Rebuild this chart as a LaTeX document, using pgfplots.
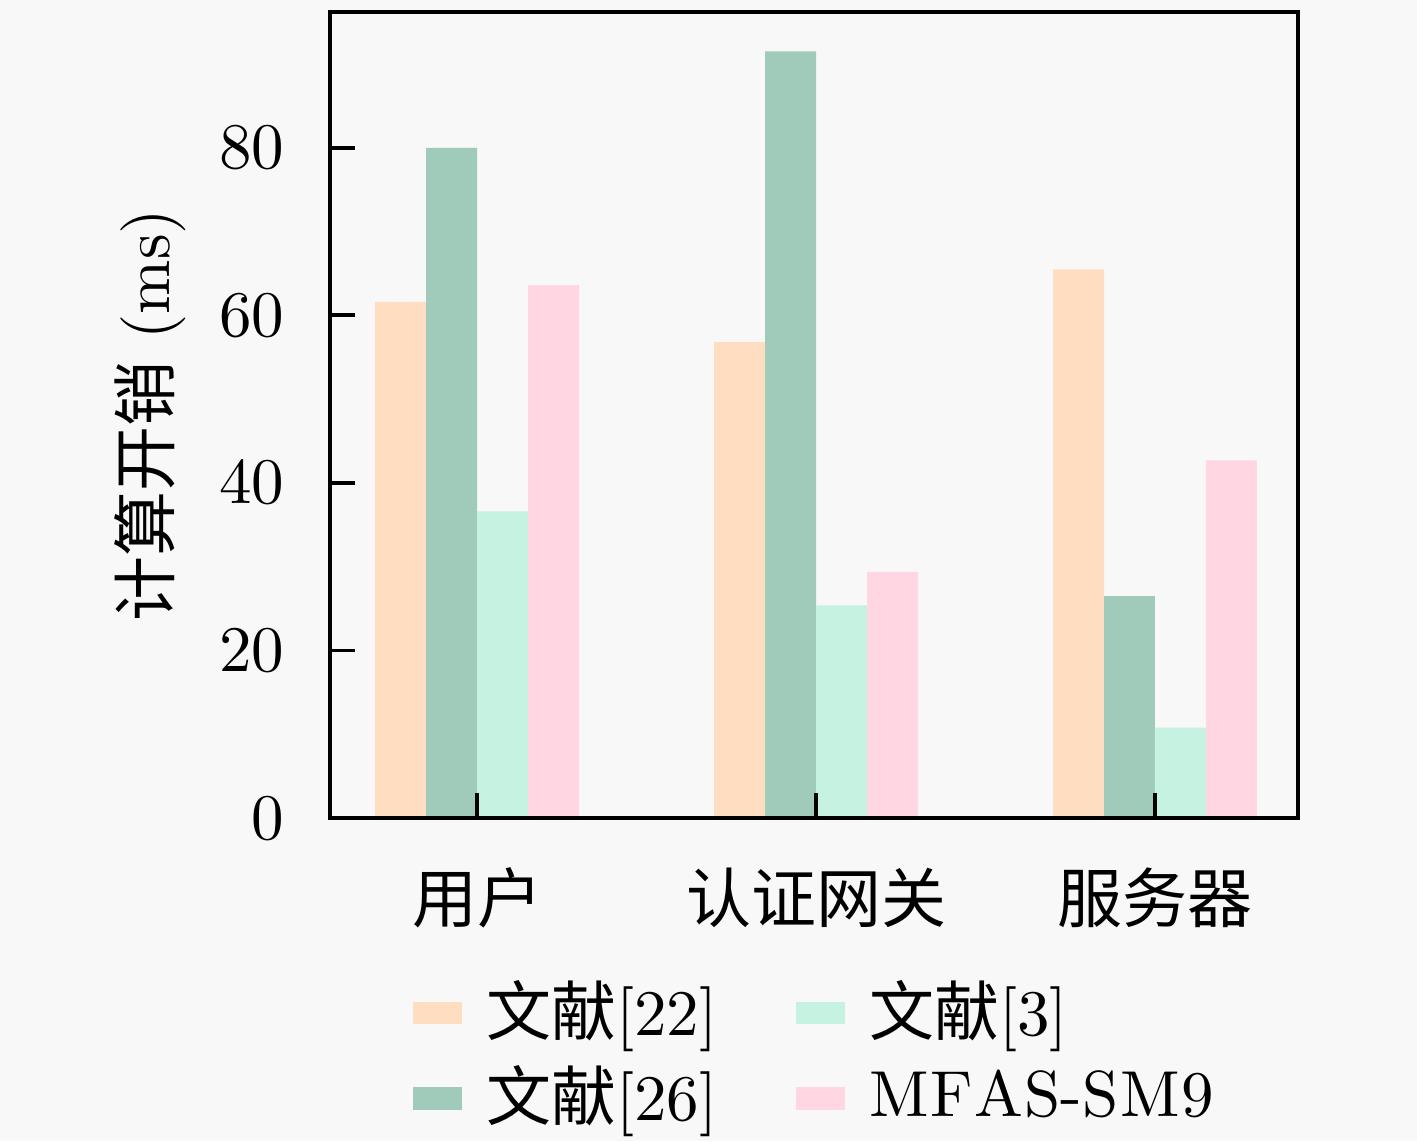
\documentclass[border=0pt]{standalone}
\usepackage{pgfplots}
\pgfplotsset{compat=1.18}
\usepackage{fontspec}
\newfontfamily\cjk{Noto Sans CJK SC}
\usetikzlibrary{backgrounds}
\definecolor{cA}{HTML}{FFDDC1}
\definecolor{cB}{HTML}{A0CBBB}
\definecolor{cC}{HTML}{C6F2E1}
\definecolor{cD}{HTML}{FFD6E2}
\definecolor{bgc}{HTML}{F8F8F8}
\pgfplotstableread{
x A B C D
0 61.6 80.0 36.6 63.6
1 56.8 91.5 25.4 29.4
2 65.5 26.5 10.8 42.7
}\datatab
\begin{document}
\begin{tikzpicture}
\begin{axis}[
  name=ax,
  scale only axis,
  axis on top,
  width=148.9pt, height=124pt,
  ybar=0pt, bar width=0.1504,
  xmin=-0.434, xmax=2.422,
  ymin=0, ymax=96.2,
  xtick={0,1,2},
  xticklabels={{\cjk 用户},{\cjk 认证网关},{\cjk 服务器}},
  ytick={0,20,40,60,80},
  tick align=inside,
  xtick pos=bottom, ytick pos=left,
  major tick length=3.8pt,
  every tick/.style={black, line width=0.6pt},
  axis line style={line width=0.6pt},
  axis background/.style={fill=bgc},
  xticklabel style={anchor=center, yshift=-12.2pt},
  yticklabel style={xshift=-3.5pt},
  ylabel={{\cjk 计算开销} (ms)},
  ylabel style={at={(axis description cs:-0.186,0.5)}, anchor=center},
  legend columns=2,
  transpose legend,
  legend cell align=left,
  legend style={at={(axis description cs:0,0)}, anchor=north west, xshift=12.8pt, yshift=-24.35pt,
    draw=none, fill=none, inner sep=0pt, outer sep=0pt,
    nodes={inner sep=0.65pt}, row sep=1.85pt,
    /tikz/every odd column/.style={column sep=3.05pt},
    /tikz/every even column/.style={column sep=11.5pt}},
]
\addplot[fill=cA, draw=none, legend image code/.code={\fill[cA] (0pt,-1.75pt) rectangle (7.5pt,1.75pt);}] table[x=x,y=A] {\datatab};
\addplot[fill=cB, draw=none, legend image code/.code={\fill[cB] (0pt,-1.75pt) rectangle (7.5pt,1.75pt);}] table[x=x,y=B] {\datatab};
\addplot[fill=cC, draw=none, legend image code/.code={\fill[cC] (0pt,-1.75pt) rectangle (7.5pt,1.75pt);}] table[x=x,y=C] {\datatab};
\addplot[fill=cD, draw=none, legend image code/.code={\fill[cD] (0pt,-1.75pt) rectangle (7.5pt,1.75pt);}] table[x=x,y=D] {\datatab};
\legend{{\cjk 文献}[22],{\cjk 文献}[26],{\cjk 文献}[3],{M\kern0.25pt F\kern0.25pt A\kern0.25pt S-S\kern0.25pt M\kern0.25pt 9}}
\end{axis}
\begin{scope}[on background layer]
\fill[bgc] ([xshift=-50.77pt,yshift=-49.7pt]ax.south west) rectangle ([xshift=18.3pt,yshift=1.85pt]ax.north east);
\end{scope}
\pgfresetboundingbox
\path ([xshift=-50.77pt,yshift=-49.7pt]ax.south west) rectangle ([xshift=18.3pt,yshift=1.85pt]ax.north east);
\end{tikzpicture}
\end{document}
